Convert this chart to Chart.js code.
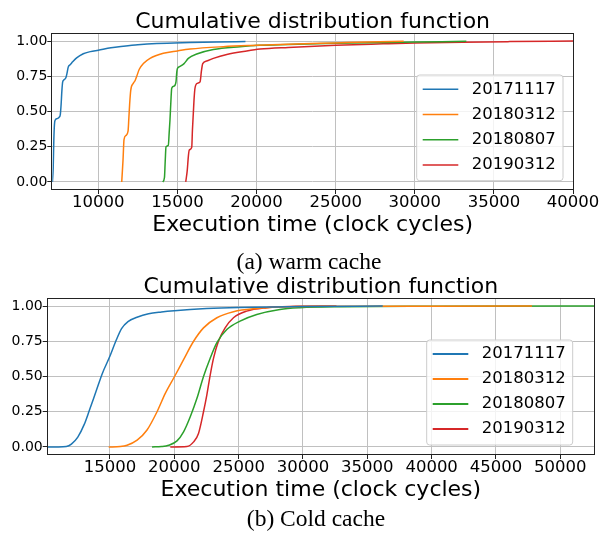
<!DOCTYPE html>
<html><head><meta charset="utf-8">
<script src="https://cdn.jsdelivr.net/npm/chart.js@4"></script>
<style>
html,body{margin:0;padding:0;background:#fff;}
#wrap{position:relative;width:609px;height:536px;overflow:hidden;background:#fff;}
canvas{position:absolute;left:0;}
.cap{position:absolute;text-align:center;font-family:'Liberation Serif','Times New Roman',serif;font-size:23.5px;line-height:23.5px;color:#000;white-space:nowrap;}
</style></head>
<body><div id="wrap">
<canvas id="warm" width="609" height="245" style="top:0"></canvas>
<canvas id="cold" width="609" height="240" style="top:270px"></canvas>
<div class="cap" style="left:0;width:618px;top:249.5px">(a) warm cache</div>
<div class="cap" style="left:0;width:632px;top:506.5px">(b) Cold cache</div>
</div>
<script>
// ---- data ----
const seriesLabels = ['20171117', '20180312', '20180807', '20190312'];
const chartTitle = 'Cumulative distribution function';
const xAxisTitle = 'Execution time (clock cycles)';
const yTicks = [0, 0.25, 0.5, 0.75, 1.0];
const warmXTicks = [10000, 15000, 20000, 25000, 30000, 35000, 40000];
const coldXTicks = [15000, 20000, 25000, 30000, 35000, 40000, 45000, 50000];

// warm cache
const warmX_20171117 = [7100, 7150, 7190, 7230, 7280, 7400, 7530, 7600, 7650, 7700, 7750, 7830, 7950, 8020, 8100, 8200, 8320, 8630, 9050, 9500, 10000, 10800, 11580, 12500, 13690, 15800, 17500, 19300];
const warmY_20171117 = [0.0, 0.10, 0.30, 0.41, 0.44, 0.45, 0.46, 0.48, 0.55, 0.65, 0.71, 0.725, 0.74, 0.77, 0.815, 0.83, 0.845, 0.88, 0.91, 0.925, 0.935, 0.952, 0.963, 0.974, 0.983, 0.990, 0.994, 0.996];
const warmX_20180312 = [11480, 11560, 11625, 11750, 11880, 11930, 11980, 12050, 12210, 12330, 12430, 12590, 12850, 13270, 14110, 15000, 15800, 17900, 20000, 22000, 25000, 27000, 29300];
const warmY_20180312 = [0.0, 0.15, 0.30, 0.33, 0.36, 0.45, 0.55, 0.65, 0.70, 0.72, 0.75, 0.80, 0.84, 0.877, 0.913, 0.93, 0.943, 0.96, 0.97, 0.978, 0.987, 0.993, 0.998];
const warmX_20180807 = [14070, 14180, 14230, 14280, 14425, 14480, 14530, 14600, 14640, 14790, 14910, 14960, 15000, 15160, 15420, 15690, 16220, 17270, 18960, 20220, 22000, 25000, 28000, 30000, 33260];
const warmY_20180807 = [0.0, 0.03, 0.15, 0.25, 0.26, 0.35, 0.44, 0.60, 0.665, 0.68, 0.71, 0.78, 0.805, 0.82, 0.84, 0.877, 0.908, 0.94, 0.96, 0.97, 0.976, 0.985, 0.99, 0.993, 0.998];
const warmX_20190312 = [15525, 15620, 15690, 15750, 15905, 15950, 16005, 16060, 16110, 16260, 16430, 16520, 16600, 16850, 17270, 18120, 19380, 20220, 22000, 25000, 28000, 30000, 33000, 36000, 40000];
const warmY_20190312 = [0.0, 0.08, 0.18, 0.227, 0.246, 0.37, 0.487, 0.60, 0.665, 0.70, 0.71, 0.79, 0.84, 0.858, 0.877, 0.905, 0.93, 0.943, 0.955, 0.97, 0.98, 0.986, 0.992, 0.996, 1.0];

// cold cache
const coldX_20171117 = [10160, 11000, 11600, 12000, 12500, 13000, 13400, 13900, 14400, 15000, 15450, 15900, 16400, 17100, 18000, 19000, 20000, 22500, 25000, 30000, 36200];
const coldY_20171117 = [0.0, 0.0, 0.003, 0.02, 0.07, 0.16, 0.26, 0.39, 0.52, 0.645, 0.75, 0.84, 0.89, 0.92, 0.945, 0.958, 0.967, 0.982, 0.99, 0.996, 1.0];
const coldX_20180312 = [14900, 15800, 16330, 17110, 17880, 18660, 19300, 20020, 20720, 21500, 22270, 23310, 24600, 26400, 28210, 32000, 40000, 47800];
const coldY_20180312 = [0.0, 0.003, 0.012, 0.048, 0.12, 0.25, 0.38, 0.50, 0.62, 0.75, 0.845, 0.917, 0.96, 0.983, 0.993, 0.998, 0.999, 1.0];
const coldX_20180807 = [18270, 19000, 19560, 20210, 20720, 21240, 21760, 22270, 22790, 23310, 24080, 25110, 26410, 28210, 29760, 33000, 40000, 52620];
const coldY_20180807 = [0.0, 0.003, 0.012, 0.043, 0.107, 0.214, 0.345, 0.50, 0.63, 0.74, 0.833, 0.893, 0.94, 0.976, 0.988, 0.995, 0.998, 1.0];
const coldX_20190312 = [19690, 20980, 21500, 21880, 22270, 22530, 22790, 23050, 23430, 23950, 24600, 25630, 27180, 28990, 32600];
const coldY_20190312 = [0.0, 0.003, 0.036, 0.096, 0.25, 0.37, 0.51, 0.63, 0.75, 0.845, 0.917, 0.964, 0.988, 0.997, 1.0];

// ---- styles ----
const seriesColors = ['#1f77b4', '#ff7f0e', '#2ca02c', '#d62728'];
Chart.defaults.font.family = "'DejaVu Sans', sans-serif";
Chart.defaults.color = '#000';

const framePlugin = {
  id: 'mplFrame',
  afterDatasetsDraw(chart) {
    const {ctx, chartArea: a} = chart;
    ctx.save();
    ctx.strokeStyle = '#222';
    ctx.lineWidth = 1;
    ctx.strokeRect(Math.round(a.left) - 0.5, Math.round(a.top) - 0.5,
                   Math.round(a.right - a.left) + 1, Math.round(a.bottom - a.top) + 1);
    ctx.restore();
  }
};

const legendPlugin = {
  id: 'mplLegend',
  afterDraw(chart, args, o) {
    const ctx = chart.ctx;
    ctx.save();
    const x0 = o.box[0], y0 = o.box[1], x1 = o.box[2], y1 = o.box[3], r = 3;
    ctx.beginPath();
    ctx.moveTo(x0 + r, y0);
    ctx.lineTo(x1 - r, y0); ctx.arcTo(x1, y0, x1, y0 + r, r);
    ctx.lineTo(x1, y1 - r); ctx.arcTo(x1, y1, x1 - r, y1, r);
    ctx.lineTo(x0 + r, y1); ctx.arcTo(x0, y1, x0, y1 - r, r);
    ctx.lineTo(x0, y0 + r); ctx.arcTo(x0, y0, x0 + r, y0, r);
    ctx.closePath();
    ctx.fillStyle = 'rgba(255,255,255,0.8)';
    ctx.fill();
    ctx.strokeStyle = '#cccccc';
    ctx.lineWidth = 1;
    ctx.stroke();
    ctx.font = o.fontSize + "px 'DejaVu Sans'";
    ctx.textBaseline = 'middle';
    ctx.textAlign = 'left';
    chart.data.datasets.forEach((ds, i) => {
      const y = o.rowY + i * o.rowStep;
      ctx.strokeStyle = ds.borderColor;
      ctx.lineWidth = o.lineW;
      ctx.beginPath();
      ctx.moveTo(o.lineX[0], y);
      ctx.lineTo(o.lineX[1], y);
      ctx.stroke();
      ctx.fillStyle = '#000';
      ctx.fillText(ds.label, o.textX, y);
    });
    ctx.restore();
  }
};

function build(id, cfg) {
  return new Chart(document.getElementById(id), {
    type: 'line',
    data: {
      datasets: cfg.series.map((s, i) => ({
        label: seriesLabels[i],
        data: s[0].map((x, j) => ({x: x, y: s[1][j]})),
        borderColor: seriesColors[i],
        backgroundColor: seriesColors[i],
        borderWidth: 1.5,
        pointRadius: 0,
        cubicInterpolationMode: 'monotone',
        fill: false
      }))
    },
    options: {
      responsive: false,
      animation: false,
      devicePixelRatio: 1,
      layout: {padding: {left: 0, right: cfg.padRight, top: 0, bottom: cfg.padBottom}},
      plugins: {
        legend: {display: false},
        tooltip: {enabled: false},
        title: {
          display: true, text: chartTitle, fullSize: false, color: '#000',
          font: {size: 22, lineHeight: 1, weight: 'normal'},
          padding: {top: cfg.titleTop, bottom: cfg.titleBottom}
        },
        mplLegend: cfg.legend
      },
      scales: {
        x: {
          type: 'linear', min: cfg.xmin, max: cfg.xmax,
          afterBuildTicks: s => { s.ticks = cfg.xticks.map(v => ({value: v})); },
          afterFit: s => { s.height = cfg.xHeight; },
          ticks: {font: {size: 16.5, lineHeight: 1}, color: '#000', padding: 0.55,
                  maxRotation: 0, autoSkip: false, callback: v => String(v)},
          grid: {color: '#c0c0c0', lineWidth: 1, tickLength: 5, tickColor: '#222', tickWidth: 1, drawTicks: true},
          border: {display: false},
          title: {display: true, text: xAxisTitle, color: '#000', font: {size: 22, lineHeight: 1}, padding: 0}
        },
        y: {
          type: 'linear', min: -0.05, max: 1.05,
          afterBuildTicks: s => { s.ticks = yTicks.map(v => ({value: v})); },
          afterFit: s => { s.width = cfg.yWidth; },
          ticks: {font: {size: 14}, color: '#000', padding: 0, autoSkip: false, callback: v => v.toFixed(2)},
          grid: {color: '#c0c0c0', lineWidth: 1, tickLength: 5, tickColor: '#222', tickWidth: 1, drawTicks: true},
          border: {display: false}
        }
      }
    },
    plugins: [framePlugin, legendPlugin]
  });
}

build('warm', {
  series: [[warmX_20171117, warmY_20171117], [warmX_20180312, warmY_20180312],
           [warmX_20180807, warmY_20180807], [warmX_20190312, warmY_20190312]],
  xmin: 7093, xmax: 40000, xticks: warmXTicks,
  padRight: 36, padBottom: 8.6, xHeight: 47.4, yWidth: 52.3,
  titleTop: 11.4, titleBottom: 0.6,
  legend: {box: [416.7, 75, 563, 180.7], rowY: 89.3, rowStep: 25.2, lineX: [422.7, 458.3], textX: 471.7, fontSize: 16.5, lineW: 1.5}
});

build('cold', {
  series: [[coldX_20171117, coldY_20171117], [coldX_20180312, coldY_20180312],
           [coldX_20180807, coldY_20180807], [coldX_20190312, coldY_20190312]],
  xmin: 10160, xmax: 52620, xticks: coldXTicks,
  padRight: 15, padBottom: 9, xHeight: 47, yWidth: 47.7,
  titleTop: 6.4, titleBottom: 0.6,
  legend: {box: [426.7, 70, 572.7, 175], rowY: 84, rowStep: 25, lineX: [432.7, 468.3], textX: 481.7, fontSize: 16.5, lineW: 2}
});
</script>
</body></html>
